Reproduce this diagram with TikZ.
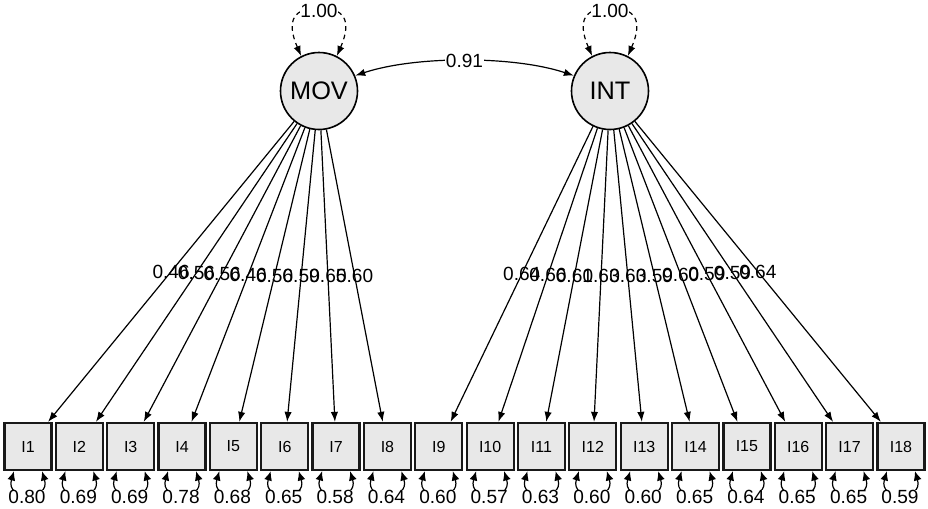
\documentclass[tikz,border=0pt]{standalone}
\usepackage{fontspec}
\setmainfont{Liberation Sans}
\usetikzlibrary{arrows.meta,calc}
\begin{document}
\begin{tikzpicture}[x=0.75pt,y=-0.75pt,
  lat/.style={circle,draw=black,fill=black!9,line width=1.2pt,minimum size=57.75pt,inner sep=0pt,font=\fontsize{19}{22}\selectfont},
  obs/.style={rectangle,draw=black!90,fill=black!9,line width=1.7pt,minimum size=35.25pt,inner sep=0pt,font=\fontsize{12}{14}\selectfont},
  num/.style={font=\fontsize{14.3}{16}\selectfont,inner sep=0.6pt},
  numw/.style={num,fill=white},
  loadtip/.style={-{Latex[length=7.5pt,width=5.5pt]},line width=0.9pt},
  restip/.style={{Latex[length=7pt,width=6pt]}-{Latex[length=7pt,width=6pt]},line width=0.9pt},
  vartip/.style={{Latex[length=7.5pt,width=5.5pt]}-{Latex[length=7.5pt,width=5.5pt]},line width=0.9pt,dash pattern=on 3.5pt off 3pt},
  covtip/.style={{Latex[length=7.5pt,width=5.5pt]}-{Latex[length=7.5pt,width=5.5pt]},line width=0.9pt},
]
\useasboundingbox (0,0) rectangle (928,508);
\node[lat] (MOV) at (319,91) {MOV};
\node[lat] (INT) at (610,91) {INT};
\foreach \i in {1,...,18} \node[obs] (I\i) at ({28+51.35*(\i-1)},446.5) {I\i};
% loadings
\foreach \i/\l in {1/0.46,2/0.56,3/0.56,4/0.46,5/0.56,6/0.59,7/0.65,8/0.60}
  \draw[loadtip] (MOV) -- node[num,pos=0.5] (l\i) {\l} (I\i);
\foreach \i/\l in {9/0.64,10/0.66,11/0.61,12/0.63,13/0.63,14/0.59,15/0.60,16/0.59,17/0.59,18/0.64}
  \draw[loadtip] (INT) -- node[num,pos=0.5] (l\i) {\l} (I\i);
% residuals
\foreach \i/\r in {1/0.80,2/0.69,3/0.69,4/0.78,5/0.68,6/0.65,7/0.58,8/0.64,9/0.60,10/0.57,11/0.63,12/0.60,13/0.60,14/0.65,15/0.64,16/0.65,17/0.65,18/0.59}{
  \draw[restip] ($(I\i.south)+(-14,0)$) .. controls +(-9,30) and +(9,30) .. ($(I\i.south)+(14,0)$);
  \node[numw] (r\i) at ($(I\i.south)+(-1,26)$) {\r};
}
% variances of latents
\coordinate (MOVtop) at (319,8);
\coordinate (INTtop) at (610,8);
\draw[vartip] (MOV.117) .. controls +(-16,-37) and +(-24,0) .. (MOVtop) .. controls +(24,0) and +(16,-37) .. (MOV.63);
\draw[vartip] (INT.117) .. controls +(-16,-37) and +(-24,0) .. (INTtop) .. controls +(24,0) and +(16,-37) .. (INT.63);
\node[numw] (vMOV) at (319,11) {1.00};
\node[numw] (vINT) at (610,11) {1.00};
% covariance
\draw[covtip] (MOV.23) .. controls +(60,-20) and +(-60,-20) .. node[numw,pos=0.5] (cov) {0.91} (INT.157);
\end{tikzpicture}
\end{document}
